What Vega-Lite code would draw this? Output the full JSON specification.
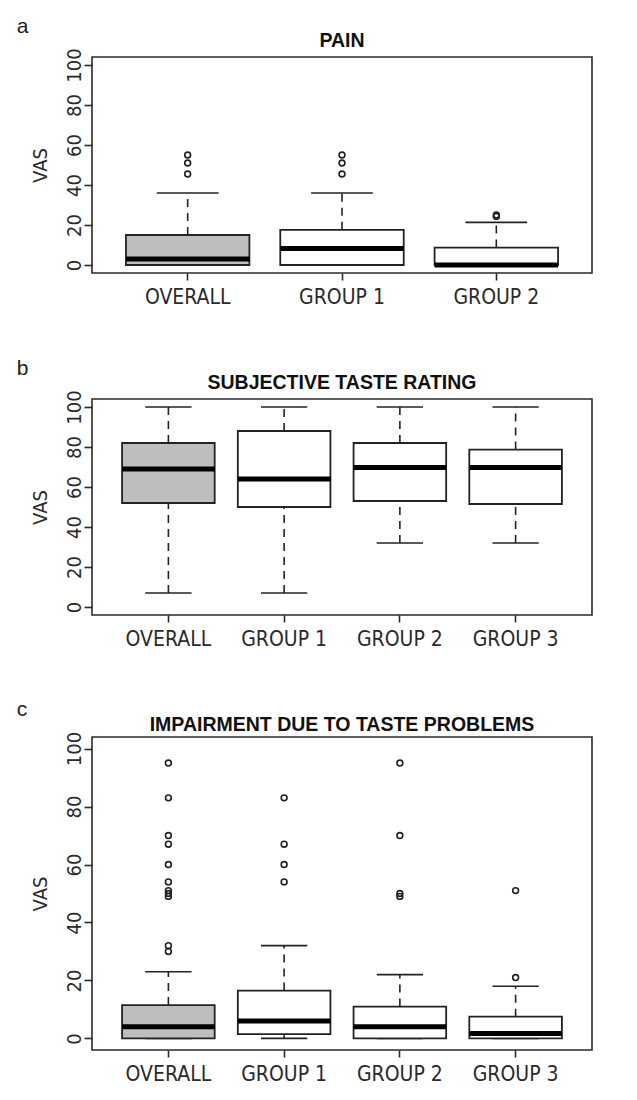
{
  "$schema": "https://vega.github.io/schema/vega-lite/v6.json",
  "padding": {"left": 16, "top": 15, "right": 5, "bottom": 5},
  "background": "white",
  "datasets": {
    "pain": [
      {"group": "OVERALL", "lower": 0, "q1": 0, "median": 3, "q3": 15, "upper": 36},
      {"group": "GROUP 1", "lower": 0, "q1": 0, "median": 8.2, "q3": 17.6, "upper": 36},
      {"group": "GROUP 2", "lower": 0, "q1": 0, "median": 0, "q3": 8.7, "upper": 21.3}
    ],
    "pain_out": [
      {"group": "OVERALL", "value": 45.5}, {"group": "OVERALL", "value": 51}, {"group": "OVERALL", "value": 55},
      {"group": "GROUP 1", "value": 45.5}, {"group": "GROUP 1", "value": 51}, {"group": "GROUP 1", "value": 55},
      {"group": "GROUP 2", "value": 24.3}, {"group": "GROUP 2", "value": 25}
    ],
    "taste": [
      {"group": "OVERALL", "lower": 7, "q1": 52, "median": 69, "q3": 82, "upper": 100},
      {"group": "GROUP 1", "lower": 7, "q1": 50, "median": 64, "q3": 88, "upper": 100},
      {"group": "GROUP 2", "lower": 32, "q1": 53, "median": 69.7, "q3": 82, "upper": 100},
      {"group": "GROUP 3", "lower": 32, "q1": 51.5, "median": 69.7, "q3": 78.7, "upper": 100}
    ],
    "impair": [
      {"group": "OVERALL", "lower": 0, "q1": 0, "median": 4, "q3": 11.5, "upper": 23},
      {"group": "GROUP 1", "lower": 0, "q1": 1.5, "median": 6, "q3": 16.5, "upper": 32},
      {"group": "GROUP 2", "lower": 0, "q1": 0, "median": 4, "q3": 11, "upper": 22},
      {"group": "GROUP 3", "lower": 0, "q1": 0, "median": 1.7, "q3": 7.5, "upper": 18}
    ],
    "impair_out": [
      {"group": "OVERALL", "value": 95}, {"group": "OVERALL", "value": 83}, {"group": "OVERALL", "value": 70},
      {"group": "OVERALL", "value": 67}, {"group": "OVERALL", "value": 60}, {"group": "OVERALL", "value": 54},
      {"group": "OVERALL", "value": 51}, {"group": "OVERALL", "value": 50}, {"group": "OVERALL", "value": 49},
      {"group": "OVERALL", "value": 32}, {"group": "OVERALL", "value": 30},
      {"group": "GROUP 1", "value": 83}, {"group": "GROUP 1", "value": 67}, {"group": "GROUP 1", "value": 60}, {"group": "GROUP 1", "value": 54},
      {"group": "GROUP 2", "value": 95}, {"group": "GROUP 2", "value": 70}, {"group": "GROUP 2", "value": 50}, {"group": "GROUP 2", "value": 49},
      {"group": "GROUP 3", "value": 51}, {"group": "GROUP 3", "value": 21}
    ]
  },
  "spacing": 49,
  "resolve": {"scale": {"x": "independent", "y": "independent"}},
  "vconcat": [
    {
      "title": {"text": "a", "anchor": "start", "fontWeight": "normal", "fontSize": 21, "font": "Liberation Sans", "color": "#222", "offset": -6, "dx": -13},
      "vconcat": [
        {
          "title": "PAIN",
          "width": 500,
          "height": 216,
          "data": {"name": "pain"},
          "encoding": {
            "x": {"field": "group", "type": "nominal", "title": null,
                  "scale": {"domain": ["OVERALL", "GROUP 1", "GROUP 2"], "paddingInner": 0.2, "paddingOuter": 0.22}}
          },
          "layer": [
            {"mark": {"type": "rule", "strokeDash": [8, 6], "strokeWidth": 1.6, "color": "#222"},
             "encoding": {"y": {"field": "q3", "type": "quantitative", "title": "VAS", "scale": {"domain": [-4, 104], "nice": false, "zero": false}}, "y2": {"field": "upper"}}},
            {"mark": {"type": "rule", "strokeDash": [8, 6], "strokeWidth": 1.6, "color": "#222"},
             "encoding": {"y": {"field": "lower", "type": "quantitative", "title": "VAS"}, "y2": {"field": "q1"}}},
            {"mark": {"type": "tick", "size": 61.7, "thickness": 1.6, "color": "#222", "opacity": 1},
             "encoding": {"y": {"field": "upper", "type": "quantitative", "title": "VAS"}}},
            {"mark": {"type": "tick", "size": 61.7, "thickness": 1.6, "color": "#222", "opacity": 1},
             "encoding": {"y": {"field": "lower", "type": "quantitative", "title": "VAS"}}},
            {"mark": {"type": "bar", "stroke": "#222", "strokeWidth": 1.8},
             "encoding": {"y": {"field": "q1", "type": "quantitative", "title": "VAS"}, "y2": {"field": "q3"},
                          "fill": {"field": "group", "type": "nominal", "legend": null,
                                   "scale": {"domain": ["OVERALL", "GROUP 1", "GROUP 2", "GROUP 3"], "range": ["#bebebe", "#ffffff", "#ffffff", "#ffffff"]}}}},
            {"mark": {"type": "tick", "size": 123.5, "thickness": 5, "color": "#000", "opacity": 1},
             "encoding": {"y": {"field": "median", "type": "quantitative", "title": "VAS"}}},
            {"data": {"name": "pain_out"},
             "mark": {"type": "point", "shape": "circle", "filled": false, "size": 34, "strokeWidth": 1.6, "color": "#222", "opacity": 1},
             "encoding": {"y": {"field": "value", "type": "quantitative", "title": "VAS"}}}
          ]
        }
      ]
    },
    {
      "title": {"text": "b", "anchor": "start", "fontWeight": "normal", "fontSize": 21, "font": "Liberation Sans", "color": "#222", "offset": -6, "dx": -13},
      "vconcat": [
        {
          "title": "SUBJECTIVE TASTE RATING",
          "width": 500,
          "height": 216,
          "data": {"name": "taste"},
          "encoding": {
            "x": {"field": "group", "type": "nominal", "title": null,
                  "scale": {"domain": ["OVERALL", "GROUP 1", "GROUP 2", "GROUP 3"], "paddingInner": 0.2, "paddingOuter": 0.26}}
          },
          "layer": [
            {"mark": {"type": "rule", "strokeDash": [8, 6], "strokeWidth": 1.6, "color": "#222"},
             "encoding": {"y": {"field": "q3", "type": "quantitative", "title": "VAS", "scale": {"domain": [-4, 104], "nice": false, "zero": false}}, "y2": {"field": "upper"}}},
            {"mark": {"type": "rule", "strokeDash": [8, 6], "strokeWidth": 1.6, "color": "#222"},
             "encoding": {"y": {"field": "lower", "type": "quantitative", "title": "VAS"}, "y2": {"field": "q1"}}},
            {"mark": {"type": "tick", "size": 46.3, "thickness": 1.6, "color": "#222", "opacity": 1},
             "encoding": {"y": {"field": "upper", "type": "quantitative", "title": "VAS"}}},
            {"mark": {"type": "tick", "size": 46.3, "thickness": 1.6, "color": "#222", "opacity": 1},
             "encoding": {"y": {"field": "lower", "type": "quantitative", "title": "VAS"}}},
            {"mark": {"type": "bar", "stroke": "#222", "strokeWidth": 1.8},
             "encoding": {"y": {"field": "q1", "type": "quantitative", "title": "VAS"}, "y2": {"field": "q3"},
                          "fill": {"field": "group", "type": "nominal", "legend": null,
                                   "scale": {"domain": ["OVERALL", "GROUP 1", "GROUP 2", "GROUP 3"], "range": ["#bebebe", "#ffffff", "#ffffff", "#ffffff"]}}}},
            {"mark": {"type": "tick", "size": 92.6, "thickness": 5, "color": "#000", "opacity": 1},
             "encoding": {"y": {"field": "median", "type": "quantitative", "title": "VAS"}}}
          ]
        }
      ]
    },
    {
      "title": {"text": "c", "anchor": "start", "fontWeight": "normal", "fontSize": 21, "font": "Liberation Sans", "color": "#222", "offset": -6, "dx": -13},
      "vconcat": [
        {
          "title": "IMPAIRMENT DUE TO TASTE PROBLEMS",
          "width": 500,
          "height": 313,
          "data": {"name": "impair"},
          "encoding": {
            "x": {"field": "group", "type": "nominal", "title": null,
                  "scale": {"domain": ["OVERALL", "GROUP 1", "GROUP 2", "GROUP 3"], "paddingInner": 0.2, "paddingOuter": 0.26}}
          },
          "layer": [
            {"mark": {"type": "rule", "strokeDash": [8, 6], "strokeWidth": 1.6, "color": "#222"},
             "encoding": {"y": {"field": "q3", "type": "quantitative", "title": "VAS", "scale": {"domain": [-4, 104], "nice": false, "zero": false}}, "y2": {"field": "upper"}}},
            {"mark": {"type": "rule", "strokeDash": [8, 6], "strokeWidth": 1.6, "color": "#222"},
             "encoding": {"y": {"field": "lower", "type": "quantitative", "title": "VAS"}, "y2": {"field": "q1"}}},
            {"mark": {"type": "tick", "size": 46.3, "thickness": 1.6, "color": "#222", "opacity": 1},
             "encoding": {"y": {"field": "upper", "type": "quantitative", "title": "VAS"}}},
            {"mark": {"type": "tick", "size": 46.3, "thickness": 1.6, "color": "#222", "opacity": 1},
             "encoding": {"y": {"field": "lower", "type": "quantitative", "title": "VAS"}}},
            {"mark": {"type": "bar", "stroke": "#222", "strokeWidth": 1.8},
             "encoding": {"y": {"field": "q1", "type": "quantitative", "title": "VAS"}, "y2": {"field": "q3"},
                          "fill": {"field": "group", "type": "nominal", "legend": null,
                                   "scale": {"domain": ["OVERALL", "GROUP 1", "GROUP 2", "GROUP 3"], "range": ["#bebebe", "#ffffff", "#ffffff", "#ffffff"]}}}},
            {"mark": {"type": "tick", "size": 92.6, "thickness": 5, "color": "#000", "opacity": 1},
             "encoding": {"y": {"field": "median", "type": "quantitative", "title": "VAS"}}},
            {"data": {"name": "impair_out"},
             "mark": {"type": "point", "shape": "circle", "filled": false, "size": 34, "strokeWidth": 1.6, "color": "#222", "opacity": 1},
             "encoding": {"y": {"field": "value", "type": "quantitative", "title": "VAS"}}}
          ]
        }
      ]
    }
  ],
  "config": {
    "view": {"stroke": "#2a2a2a", "strokeWidth": 1.6},
    "axis": {
      "labelFont": "Liberation Sans Narrow, DejaVu Sans Condensed, sans-serif",
      "labelFontSize": 20,
      "labelColor": "#2a2a2a",
      "tickColor": "#2a2a2a",
      "tickWidth": 1.6,
      "domain": false,
      "grid": false,
      "titleFont": "Liberation Sans Narrow, DejaVu Sans Condensed, sans-serif",
      "titleFontSize": 20,
      "titleFontWeight": "normal",
      "titleColor": "#2a2a2a"
    },
    "axisX": {"tickSize": 7, "labelPadding": 6, "labelAngle": 0, "labelFontSize": 21},
    "axisY": {"tickSize": 8, "labelPadding": 3.5, "labelAngle": 270, "labelAlign": "center", "labelBaseline": "alphabetic", "titlePadding": 14, "tickCount": 6},
    "title": {"font": "Liberation Sans", "fontSize": 19.5, "fontWeight": "bold", "color": "#111", "baseline": "alphabetic", "offset": -4}
  }
}
